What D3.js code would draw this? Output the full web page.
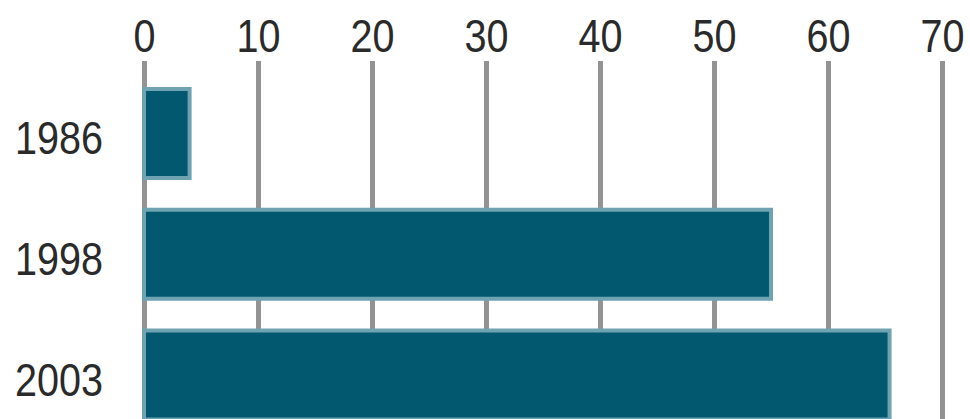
<!DOCTYPE html>
<html>
<head>
<meta charset="utf-8">
<script src="https://cdn.jsdelivr.net/npm/d3@7"></script>
<style>
  html, body { margin: 0; padding: 0; background: #ffffff; }
  svg { display: block; }
  .axis text { font-family: "Liberation Sans", Arial, sans-serif; font-size: 46px; fill: #2a2a2a; }
</style>
</head>
<body>
<svg id="chart" width="970" height="419"></svg>
<script>
// Survey years and the value recorded for each
const years = ["1986", "1998", "2003"];
const values = [4, 55, 65.4];
const tickValues = [0, 10, 20, 30, 40, 50, 60, 70];

const svg = d3.select("#chart");
const W = 970, H = 419;
const squeeze = 0.86; // narrow the lettering horizontally

const x = d3.scaleLinear().domain([0, 70]).range([144, 942]);
const y = d3.scaleBand().domain(years).range([64, 444.5]).paddingInner(0.263).paddingOuter(0.207);

// Value axis along the top, its ticks extended down as gridlines
const gridTop = 61;
const xAxis = svg.append("g")
  .attr("class", "axis x-axis")
  .attr("transform", `translate(0,${gridTop})`)
  .call(d3.axisTop(x).tickValues(tickValues).tickSize(-(H - gridTop + 10)).tickPadding(9).tickFormat(d3.format("d")));
xAxis.select(".domain").remove();
xAxis.selectAll(".tick line").attr("stroke", "#939393").attr("stroke-width", 5);
xAxis.selectAll(".tick text").attr("dy", "0").attr("transform", `scale(${squeeze},1)`);

// Bars
svg.append("g")
  .selectAll("rect")
  .data(years.map((yr, i) => ({ yr, v: values[i] })))
  .join("rect")
  .attr("x", x(0))
  .attr("y", d => y(d.yr))
  .attr("width", d => x(d.v) - x(0))
  .attr("height", y.bandwidth())
  .attr("fill", "#02596f")
  .attr("stroke", "#6fa3b1")
  .attr("stroke-width", 4);

// Category labels on the left
const yAxis = svg.append("g")
  .attr("class", "axis y-axis")
  .attr("transform", `translate(${x(0)},0)`)
  .call(d3.axisLeft(y).tickSize(0).tickPadding(41));
yAxis.select(".domain").remove();
yAxis.selectAll(".tick text")
  .attr("dy", "0")
  .attr("y", 20.5)
  .attr("x", -41 / squeeze)
  .attr("transform", `scale(${squeeze},1)`);
</script>
</body>
</html>
